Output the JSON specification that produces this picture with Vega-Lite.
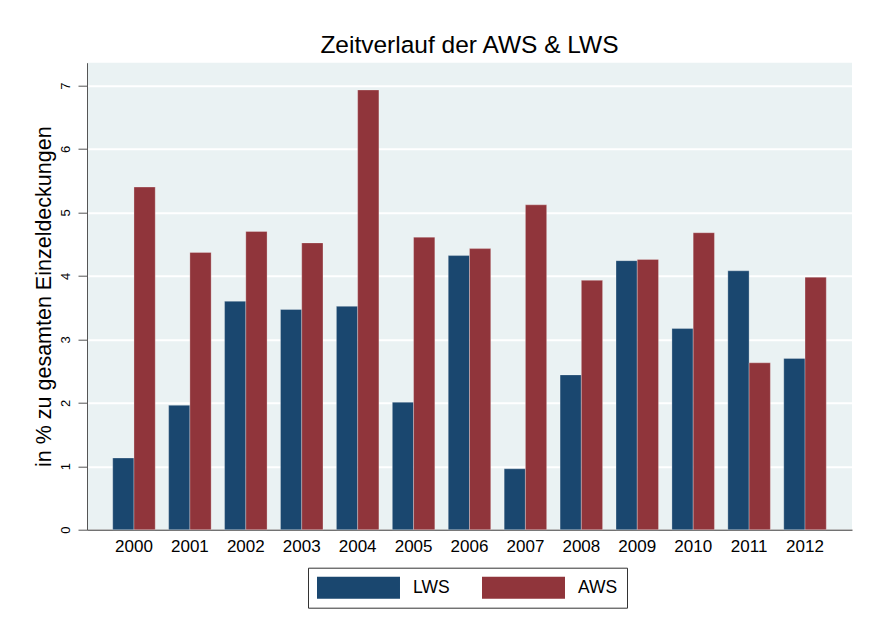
{
  "$schema": "https://vega.github.io/schema/vega-lite/v6.json",
  "autosize": "none",
  "width": 765,
  "height": 467,
  "padding": {"left": 87, "top": 62.7, "right": 17, "bottom": 97.3},
  "background": "white",
  "title": {"text": "Zeitverlauf der AWS & LWS", "fontSize": 24.5, "font": "Liberation Sans", "fontWeight": "normal", "color": "black", "offset": 4, "anchor": "middle"},
  "config": {
    "view": {"fill": "#eaf2f3", "stroke": null},
    "font": "Liberation Sans"
  },
  "data": {"values": [
    {"Jahr": "2000", "Serie": "LWS", "Wert": 1.13},
    {"Jahr": "2000", "Serie": "AWS", "Wert": 5.40},
    {"Jahr": "2001", "Serie": "LWS", "Wert": 1.96},
    {"Jahr": "2001", "Serie": "AWS", "Wert": 4.37},
    {"Jahr": "2002", "Serie": "LWS", "Wert": 3.60},
    {"Jahr": "2002", "Serie": "AWS", "Wert": 4.70},
    {"Jahr": "2003", "Serie": "LWS", "Wert": 3.47},
    {"Jahr": "2003", "Serie": "AWS", "Wert": 4.52},
    {"Jahr": "2004", "Serie": "LWS", "Wert": 3.52},
    {"Jahr": "2004", "Serie": "AWS", "Wert": 6.93},
    {"Jahr": "2005", "Serie": "LWS", "Wert": 2.01},
    {"Jahr": "2005", "Serie": "AWS", "Wert": 4.61},
    {"Jahr": "2006", "Serie": "LWS", "Wert": 4.32},
    {"Jahr": "2006", "Serie": "AWS", "Wert": 4.43},
    {"Jahr": "2007", "Serie": "LWS", "Wert": 0.96},
    {"Jahr": "2007", "Serie": "AWS", "Wert": 5.12},
    {"Jahr": "2008", "Serie": "LWS", "Wert": 2.44},
    {"Jahr": "2008", "Serie": "AWS", "Wert": 3.93},
    {"Jahr": "2009", "Serie": "LWS", "Wert": 4.24},
    {"Jahr": "2009", "Serie": "AWS", "Wert": 4.26},
    {"Jahr": "2010", "Serie": "LWS", "Wert": 3.17},
    {"Jahr": "2010", "Serie": "AWS", "Wert": 4.68},
    {"Jahr": "2011", "Serie": "LWS", "Wert": 4.08},
    {"Jahr": "2011", "Serie": "AWS", "Wert": 2.63},
    {"Jahr": "2012", "Serie": "LWS", "Wert": 2.70},
    {"Jahr": "2012", "Serie": "AWS", "Wert": 3.98}
  ]},
  "mark": {"type": "bar", "stroke": "white", "strokeOpacity": 0.35, "strokeWidth": 0.8},
  "encoding": {
    "x": {
      "field": "Jahr", "type": "nominal",
      "scale": {"paddingInner": 0.24, "paddingOuter": 0.46},
      "axis": {"title": null, "labelAngle": 0, "labelFontSize": 17, "labelColor": "black", "labelPadding": 9, "ticks": false, "tickSize": 0, "domainColor": "#333", "domainWidth": 1, "grid": false}
    },
    "xOffset": {"field": "Serie", "type": "nominal", "sort": ["LWS", "AWS"], "scale": {"paddingInner": 0, "paddingOuter": 0}},
    "y": {
      "field": "Wert", "type": "quantitative",
      "scale": {"domain": [0, 7.36], "nice": false, "zero": true},
      "axis": {"values": [0, 1, 2, 3, 4, 5, 6, 7], "title": "in % zu gesamten Einzeldeckungen", "titleFontSize": 21.5, "titleFontWeight": "normal", "titleColor": "black", "titlePadding": 4, "labelAngle": 270, "labelFontSize": 13, "labelColor": "black", "labelPadding": 6, "tickSize": 9, "tickColor": "#555", "domainColor": "#555", "grid": true, "gridColor": "white", "gridWidth": 2}
    },
    "color": {
      "field": "Serie", "type": "nominal", "sort": ["LWS", "AWS"],
      "scale": {"domain": ["LWS", "AWS"], "range": ["#1a476f", "#90353b"]},
      "legend": {"title": null, "orient": "none", "legendX": 221, "legendY": 505, "direction": "horizontal", "symbolType": "M-1,-1H6.545V1H-1Z", "symbolSize": 484, "symbolStrokeWidth": 0, "symbolOpacity": 1, "labelFontSize": 17.5, "labelColor": "black", "labelOffset": 74, "columnPadding": 32, "padding": 9, "strokeColor": "#333", "fillColor": "white"}
    }
  }
}
